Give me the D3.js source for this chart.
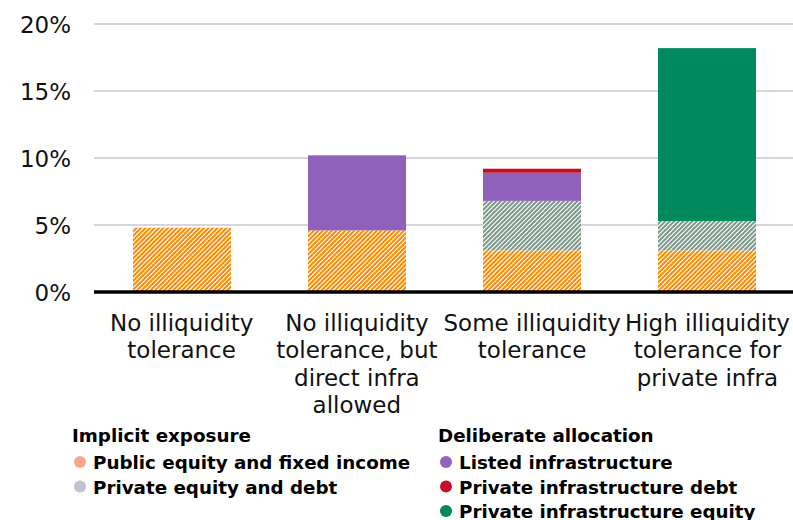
<!DOCTYPE html>
<html><head><meta charset="utf-8">
<script src="https://cdn.jsdelivr.net/npm/d3@7"></script>
<style>
html,body{margin:0;padding:0;background:#fff;}
svg{display:block;}
</style></head>
<body>
<svg id="chart" width="793" height="520"></svg>
<script>
const categories = ["No illiquidity tolerance", "No illiquidity tolerance, but direct infra allowed", "Some illiquidity tolerance", "High illiquidity tolerance for private infra"];
const categoryLines = [["No illiquidity","tolerance"],["No illiquidity","tolerance, but","direct infra","allowed"],["Some illiquidity","tolerance"],["High illiquidity","tolerance for","private infra"]];
const publicEquityFixedIncome = [4.8, 4.6, 3.1, 3.1];
const privateEquityDebt = [0, 0, 3.7, 2.2];
const listedInfra = [0, 5.6, 2.1, 0];
const privateInfraDebt = [0, 0, 0.3, 0];
const privateInfraEquity = [0, 0, 0, 12.9];
const yTicks = [0, 5, 10, 15, 20];
const seriesKeys = ["pub","pe","listed","debt","infraEq"];
const seriesNames = ["Public equity and fixed income","Private equity and debt","Listed infrastructure","Private infrastructure debt","Private infrastructure equity"];

const svg = d3.select("#chart");
const defs = svg.append("defs");
function hatch(id, color){
  const T = 9, per = 4.5;
  const p = defs.append("pattern").attr("id", id).attr("patternUnits","userSpaceOnUse")
    .attr("width", T).attr("height", T);
  p.append("rect").attr("width",T).attr("height",T).attr("fill","#fff");
  let d = "";
  for (let c = -per; c <= 2*T + per; c += per) {
    d += `M${c+1},-1 L-1,${c+1} `;
  }
  p.append("path").attr("d", d).attr("stroke", color).attr("stroke-width", 2.05).attr("fill","none");
  return `url(#${id})`;
}
const fills = {
  pub: hatch("hPub", "#ff8c00"),
  pe: hatch("hPe", "#7c998a"),
  listed: "#8f61ba",
  debt: "#c2102b",
  infraEq: "#00895c"
};

const data = categories.map((c,i)=>({cat:c, pub:publicEquityFixedIncome[i], pe:privateEquityDebt[i], listed:listedInfra[i], debt:privateInfraDebt[i], infraEq:privateInfraEquity[i]}));
const stacked = d3.stack().keys(seriesKeys)(data);

const x = d3.scaleBand().domain(categories).range([94, 795]).paddingInner(0.44).paddingOuter(0.22);
const y = d3.scaleLinear().domain([0, 20]).range([292, 24]);

const yAxis = d3.axisLeft(y).tickValues(yTicks).tickFormat(d=>d+"%").tickSize(0).tickPadding(23);
const gAxis = svg.append("g").attr("transform","translate(94,0)").call(yAxis);
gAxis.select(".domain").remove();
gAxis.selectAll("text").attr("font-family","DejaVu Sans").attr("font-size",23).attr("fill","#111").attr("dy","0.36em");

svg.append("g").selectAll("line").data(yTicks.filter(d=>d>0)).join("line")
  .attr("x1",94).attr("x2",793).attr("y1",d=>y(d)).attr("y2",d=>y(d))
  .attr("stroke","#d6d4dd").attr("stroke-width",2);

svg.append("g").selectAll("g").data(stacked).join("g")
  .attr("fill", d=>fills[d.key])
  .selectAll("rect").data(d=>d.filter(s=>s[1]-s[0]>0)).join("rect")
  .attr("x", d=>Math.round(x(d.data.cat))).attr("width", Math.round(x.bandwidth()))
  .attr("y", d=>y(d[1])).attr("height", d=>y(d[0])-y(d[1]));

svg.append("line").attr("x1",94).attr("x2",793).attr("y1",y(0)).attr("y2",y(0))
  .attr("stroke","#000").attr("stroke-width",3.5);

const xl = svg.append("g");
categories.forEach((c,i)=>{
  const t = xl.append("text").attr("text-anchor","middle").attr("font-family","DejaVu Sans")
    .attr("font-size",23).attr("fill","#111");
  categoryLines[i].forEach((ln,j)=>{
    t.append("tspan").attr("x", x(c)+x.bandwidth()/2).attr("y", 331 + j*27.4).text(ln);
  });
});

const legendGroups = [
  {title:"Implicit exposure", x:72, items:[[0,"#f8a68a"],[1,"#c2c1d1"]]},
  {title:"Deliberate allocation", x:438, items:[[2,"#9164c2"],[3,"#c8102e"],[4,"#00875a"]]}
];
legendGroups.forEach(g=>{
  const lg = svg.append("g");
  lg.append("text").attr("x",g.x).attr("y",442).attr("font-family","DejaVu Sans").attr("font-weight","bold")
    .attr("font-size",18.3).attr("fill","#000").text(g.title);
  g.items.forEach((it,j)=>{
    const cy = 462 + j*24.5;
    lg.append("circle").attr("cx",g.x+8).attr("cy",cy).attr("r",6).attr("fill",it[1]);
    lg.append("text").attr("x",g.x+21).attr("y",cy+7).attr("font-family","DejaVu Sans").attr("font-weight","bold")
      .attr("font-size",18.3).attr("fill","#000").text(seriesNames[it[0]]);
  });
});
</script>
</body></html>
